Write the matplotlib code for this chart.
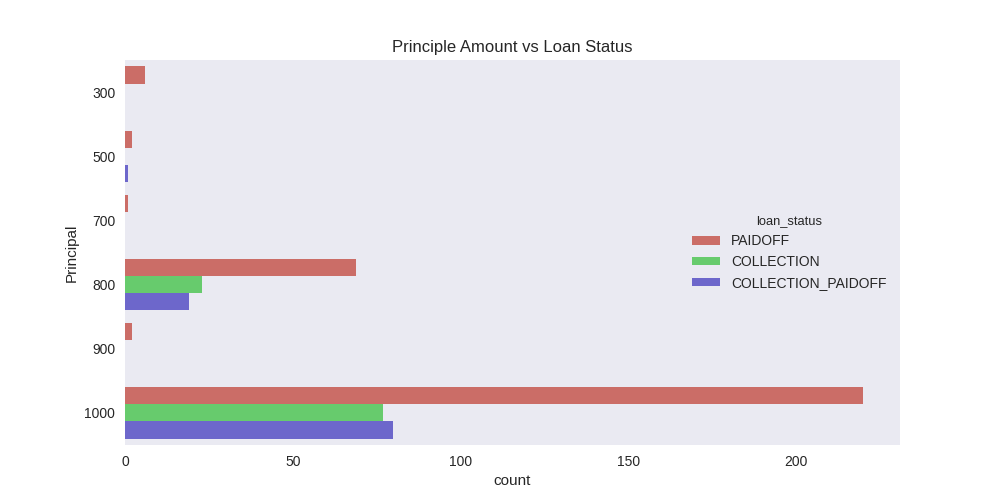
import matplotlib
matplotlib.use("Agg")
import matplotlib.pyplot as plt
import numpy as np
import seaborn as sns

principals = ["300", "500", "700", "800", "900", "1000"]
statuses = ["PAIDOFF", "COLLECTION", "COLLECTION_PAIDOFF"]
paidoff = [6, 2, 1, 69, 2, 220]
collection = [0, 0, 0, 23, 0, 77]
collection_paidoff = [0, 1, 0, 19, 0, 80]

sns.set_style("dark")
plt.rcParams['font.family'] = ['Liberation Sans', 'DejaVu Sans']

base = sns.color_palette("hls", 3)
colors = [sns.desaturate(c, 0.75) for c in base]

fig, ax = plt.subplots(figsize=(10, 5), dpi=100)
n = len(statuses)
width = 0.8 / n
y = np.arange(len(principals))
for i, (vals, name) in enumerate(zip([paidoff, collection, collection_paidoff], statuses)):
    offset = (i - (n - 1) / 2) * width
    ax.barh(y + offset, vals, height=width, color=colors[i], label=name, linewidth=0)

ax.set_yticks(y)
ax.set_yticklabels(principals, fontsize=10)
ax.tick_params(axis='x', labelsize=10)
ax.set_ylim(len(principals) - 0.5, -0.5)
ax.set_xlim(0, 231)
ax.set_xticks([0, 50, 100, 150, 200])
ax.set_xlabel("count", fontsize=11)
ax.set_ylabel("Principal", fontsize=11)
ax.set_title("Principle Amount vs Loan Status", fontsize=12)
ax.legend(title="loan_status", frameon=False, loc="center left",
          bbox_to_anchor=(0.716, 0.5), fontsize=10, title_fontsize=9.3,
          handleheight=0.6)
for s in ax.spines.values():
    s.set_visible(False)

fig.savefig("out.png", dpi=100)
